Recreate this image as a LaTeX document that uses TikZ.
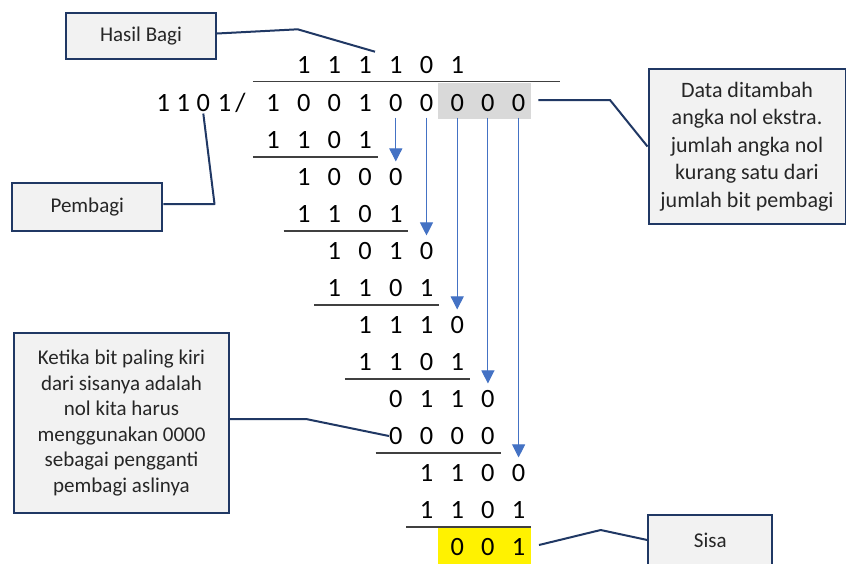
\documentclass[tikz,border=0pt]{standalone}
\usepackage{fontspec}
\setmainfont{Carlito}
\usepackage{xcolor}
\usepackage{tikz}
\usetikzlibrary{arrows.meta, calc}
\definecolor{calloutnavy}{RGB}{32, 56, 100}
\definecolor{calloutfill}{RGB}{242, 242, 242}
\definecolor{calloutink}{RGB}{38, 38, 38}
\definecolor{bitblue}{RGB}{68, 114, 196}
\definecolor{rulegray}{RGB}{64, 64, 64}
\definecolor{padgray}{RGB}{217, 217, 217}
\tikzset{
    callout/.style={rectangle, draw=calloutnavy, fill=calloutfill, line width=2pt, text=calloutink, align=center, inner sep=0pt, font=\fontsize{21}{25.6}\selectfont},
    bit/.style={inner sep=0pt, text height=16.7pt, text depth=0pt, font=\fontsize{26.4}{30}\selectfont},
    leader/.style={draw=calloutnavy, line width=2pt, line join=round},
    subline/.style={draw=rulegray, line width=1.3pt},
    bitarrow/.style={draw=bitblue, line width=1pt, -{Triangle[length=13pt, width=13pt]}}
}

\begin{document}
\begin{tikzpicture}[x=1pt, y=-1pt]
    \useasboundingbox (0,0) rectangle (846,563);
    \clip (0,0) rectangle (846,563);
    \fill[white] (0,0) rectangle (846,563);

    % padding zeros and remainder
    \fill[padgray] (437.7,82.7) rectangle (530.7,119.3);
    \fill[yellow] (437.7,528.3) rectangle (531,570);

    % quotient and divisor
    \foreach \b [count=\i from 1] in {1,1,1,1,0,1}
        \node[bit] (q\i) at ({273+30.7*\i}, 65) {\b};
    \foreach \b/\x [count=\i] in {1/163.3, 1/183.3, 0/203.3, 1/224.5}
        \node[bit] (dv\i) at (\x, 103) {\b};
    \node[bit] (slash) at (240.5,103) {/};

    % long division rows
    \foreach \r/\s/\bits in {0/0/{1,0,0,1,0,0,0,0,0}, 1/0/{1,1,0,1}, 2/1/{1,0,0,0}, 3/1/{1,1,0,1},
            4/2/{1,0,1,0}, 5/2/{1,1,0,1}, 6/3/{1,1,1,0}, 7/3/{1,1,0,1}, 8/4/{0,1,1,0},
            9/4/{0,0,0,0}, 10/5/{1,1,0,0}, 11/5/{1,1,0,1}, 12/6/{0,0,1}}
        \foreach \b [count=\i from \s] in \bits
            \node[bit] (r\r-\i) at ({273+30.7*\i}, {103+37*\r}) {\b};

    \draw[subline] ([xshift=-13.3pt, yshift=13pt]r0-0.north west) -- ([xshift=35pt, yshift=13pt]r0-8.north east);
    \foreach \r/\s in {1/0, 3/1, 5/2, 7/3, 9/4, 11/5} {
        \pgfmathtruncatemacro\e{\s+3}
        \draw[subline] ([xshift=-13.3pt, yshift=-8.45pt]r\r-\s.south west) -- ([xshift=5.8pt, yshift=-8.45pt]r\r-\e.south east);
    }

    % bring-down arrows
    \foreach \k in {0,...,4} {
        \pgfmathtruncatemacro\c{4+\k}
        \pgfmathtruncatemacro\t{2*\k+2}
        \draw[bitarrow] ([yshift=-6pt]r0-\c.south) -- ([yshift=7pt]r\t-\c.north);
    }

    % callouts
    \node[callout, minimum width=150pt, minimum height=46pt] (hasil) at (141,36) {Hasil Bagi};
    \node[callout, minimum width=150pt, minimum height=47.7pt] (pembagi) at (87.3,207.2) {Pembagi};
    \node[callout, minimum width=197pt, minimum height=155pt, font=\fontsize{22}{27.5}\selectfont] (ekstra) at (747,146.5)
        {Data ditambah\\angka nol ekstra.\\jumlah angka nol\\kurang satu dari\\jumlah bit pembagi};
    \node[callout, minimum width=214.4pt, minimum height=179.4pt] (ketika) at (121.5,423)
        {Ketika bit paling kiri\\dari sisanya adalah\\nol kita harus\\menggunakan 0000\\sebagai pengganti\\pembagi aslinya};
    \node[callout, minimum width=124pt, minimum height=50pt] (sisa) at (710.3,540) {Sisa};

    \coordinate (hbend) at (297.7,29.3);
    \coordinate (htip) at (375,51.7);
    \coordinate (pbend) at (214.5,204);
    \coordinate (ebend) at (610,100);
    \coordinate (kbend) at (306,419);
    \coordinate (sbend) at (600.7,530);

    \draw[leader] ([yshift=2.5pt]hasil.east) -- (hbend) -- (htip);
    \draw[leader] (pembagi.east |- pbend) -- (pbend) -- ([yshift=-2pt]dv3.south);
    \draw[leader] ([xshift=13pt, yshift=3pt]r0-8.east) -- (ebend) -- (ekstra.west);
    \draw[leader] (ketika.east |- kbend) -- (kbend) -- (r9-4.west);
    \draw[leader] ([xshift=13.5pt, yshift=2pt]r12-8.east) -- (sbend) -- (sisa.west);
\end{tikzpicture}
\end{document}
